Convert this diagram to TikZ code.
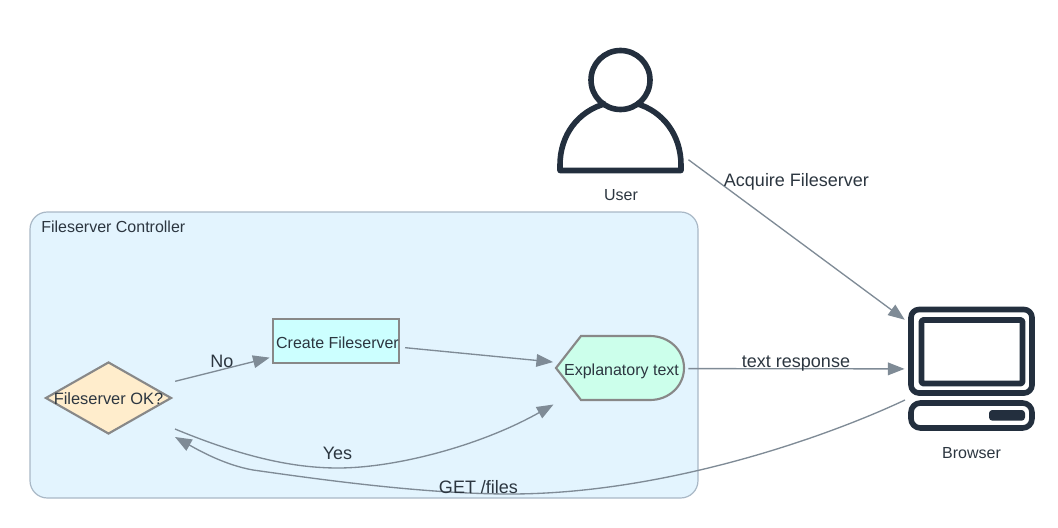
\documentclass[tikz,border=0pt]{standalone}
\usepackage{fontspec}
\setmainfont{Liberation Sans}
\usetikzlibrary{arrows.meta,calc,shapes.geometric}
\definecolor{edgec}{HTML}{7F8B96}
\definecolor{textc}{HTML}{2C3640}
\definecolor{iconc}{HTML}{232F3E}
\definecolor{shapeb}{HTML}{888888}
\tikzset{
  edgeline/.style={draw=edgec,line width=1pt,-{Triangle[length=12.5pt,width=9.5pt]}},
  edgelabel/.style={font=\fontsize{13.5}{15}\selectfont,text=textc,inner sep=0pt},
  nodetext/.style={font=\fontsize{12}{14}\selectfont,text=textc,inner sep=0pt},
  iconline/.style={draw=iconc,line width=4.2pt,line join=round},
  shapeline/.style={draw=shapeb,line width=1.6pt},
}
\begin{document}
\begin{tikzpicture}[x=0.75pt,y=-0.75pt]
\useasboundingbox (0,0) rectangle (1058,528);
% cluster
\node[rounded corners=13pt,draw={rgb,255:red,169;green,184;blue,198},line width=0.9pt,fill={rgb,255:red,227;green,244;blue,254},
  minimum width=501pt,minimum height=214.5pt,inner sep=0pt] (cluster) at (364,355) {};
\node[nodetext,anchor=west] (clustertitle) at (41,227) {Fileserver Controller};
% decision
\node[diamond,shapeline,fill={rgb,255:red,255;green,237;blue,204},minimum width=94.5pt,minimum height=54pt,inner sep=0pt] (dec) at (108.5,398) {};
\node[nodetext,font=\fontsize{12.3}{14}\selectfont] (dectext) at (108.5,398.5) {Fileserver OK?};
% process
\node[rectangle,shapeline,fill={rgb,255:red,204;green,255;blue,255},minimum width=95pt,minimum height=33pt,inner sep=0pt] (create) at (336,341) {};
\node[nodetext] (createtext) at (337.5,343) {Create Fileserver};
% explanatory
\node[inner sep=0pt,minimum width=96pt,minimum height=48pt] (expl) at (620,368.5) {};
\draw[shapeline,fill={rgb,255:red,204;green,255;blue,235}] (556,368) -- (581,336) -- (650,336)
  .. controls (669,336) and (684,350) .. (684,368) .. controls (684,386) and (669,400) .. (650,400) -- (581,400) -- cycle;
\node[nodetext] (expltext) at (621.5,371) {Explanatory text};
% user icon
\node[inner sep=0pt,minimum width=96pt,minimum height=94.5pt] (user) at (621,110) {};
\draw[iconline] (620.5,80) circle [radius=29.5];
\draw[iconline] (606,103.5) .. controls (578,111) and (560,135) .. (560,165) -- (560,170.5) -- (681,170.5) -- (681,165) .. controls (681,135) and (663,111) .. (636,103.5);
\node[nodetext] (usertext) at (621,195) {User};
% browser icon
\node[inner sep=0pt,minimum width=94pt,minimum height=93pt] (browser) at (971.5,369) {};
\draw[iconline,rounded corners=6pt] (911,309.5) rectangle (1032,393);
\draw[iconline,rounded corners=1pt] (921.5,320) rectangle (1022.5,383.5);
\draw[iconline,rounded corners=7pt] (911,403) rectangle (1032,428);
\fill[iconc,rounded corners=2.5pt] (989,410) rectangle (1025,420.7);
\node[nodetext] (browsertext) at (971.5,453) {Browser};
% connectors
\draw[edgeline,shorten <=3pt,shorten >=3.5pt] (user) -- (browser);
\draw[edgeline,shorten <=3pt,shorten >=3pt] (expl) -- (browser);
\draw[edgeline,shorten <=17pt,shorten >=1.5pt] (dec) -- (create);
\draw[edgeline,shorten <=3.5pt,shorten >=2pt] (create) -- (expl);
\draw[edgeline] ($(dec)+(66.5,31)$) .. controls (245,458) and (295,468) .. (338,468) .. controls (395,468) and (480,446) .. ($(expl)+(-66.5,36)$);
\draw[edgeline] ($(browser)+(-66.5,31)$) .. controls (820,440) and (660,494) .. (510,494) .. controls (420,494) and (310,478) .. (253,470) .. controls (225,465) and (200,451) .. ($(dec)+(66.5,39)$);
% labels
\node[edgelabel] (l1) at (796.5,181.5) {Acquire Fileserver};
\node[edgelabel] (l2) at (796,364) {text response};
\node[edgelabel] (l3) at (222,361.5) {No};
\node[edgelabel] (l4) at (337.5,453) {Yes};
\node[edgelabel] (l5) at (478.5,487) {GET /files};
\end{tikzpicture}
\end{document}
